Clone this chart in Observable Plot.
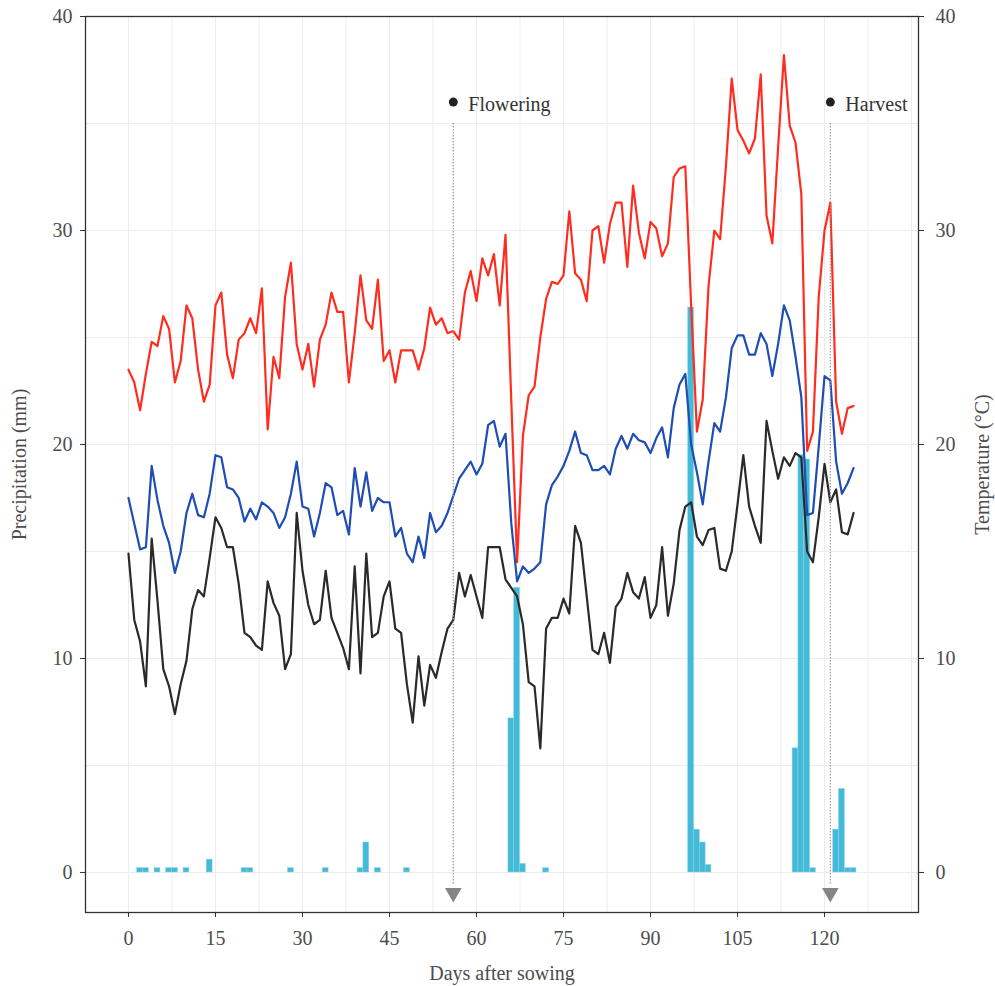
<!DOCTYPE html>
<html>
<head>
<meta charset="utf-8">
<script src="https://cdn.jsdelivr.net/npm/d3@7"></script>
<script src="https://cdn.jsdelivr.net/npm/@observablehq/plot@0.6"></script>
<style>
  html, body { margin: 0; padding: 0; background: #fff; }
  #chart svg { display: block; }
</style>
</head>
<body>
<div id="chart"></div>
<script>
// Days after sowing (0..125)
const days = d3.range(0, 126);

// Maximum temperature (°C)
const tmax = [
  23.5, 22.9, 21.6, 23.3, 24.8, 24.6, 26.0, 25.4, 22.9, 23.9,
  26.5, 25.9, 23.5, 22.0, 22.8, 26.5, 27.1, 24.2, 23.1, 24.9,
  25.2, 25.9, 25.2, 27.3, 20.7, 24.1, 23.1, 26.9, 28.5, 24.7,
  23.5, 24.7, 22.7, 24.9, 25.6, 27.1, 26.2, 26.2, 22.9, 25.2,
  27.9, 25.8, 25.4, 27.7, 23.9, 24.4, 22.9, 24.4, 24.4, 24.4,
  23.5, 24.5, 26.4, 25.6, 25.9, 25.2, 25.3, 24.9, 27.1, 28.1,
  26.7, 28.7, 27.9, 28.9, 26.5, 29.8, 22.0, 14.5, 20.4, 22.3,
  22.7, 25.0, 26.8, 27.6, 27.5, 27.9, 30.9, 28.0, 27.7, 26.7,
  30.0, 30.2, 28.5, 30.3, 31.3, 31.3, 28.3, 32.1, 29.9, 28.7,
  30.4, 30.1, 28.8, 29.4, 32.5, 32.9, 33.0, 26.5, 20.6, 22.1,
  27.4, 30.0, 29.6, 33.0, 37.1, 34.7, 34.2, 33.6, 34.3, 37.3,
  30.7, 29.4, 33.9, 38.2, 34.9, 34.1, 31.7, 19.7, 20.6, 26.9,
  30.0, 31.3, 22.0, 20.5, 21.7, 21.8
];

// Mean temperature (°C)
const tmean = [
  17.5, 16.3, 15.1, 15.2, 19.0, 17.4, 16.2, 15.4, 14.0, 15.0,
  16.8, 17.7, 16.7, 16.6, 17.7, 19.5, 19.4, 18.0, 17.9, 17.5,
  16.4, 17.0, 16.5, 17.3, 17.1, 16.8, 16.1, 16.6, 17.7, 19.2,
  17.1, 17.0, 15.7, 16.8, 18.2, 18.0, 16.7, 16.9, 15.8, 18.9,
  17.1, 18.7, 16.9, 17.5, 17.3, 17.3, 15.7, 16.1, 14.9, 14.5,
  15.7, 14.7, 16.8, 15.9, 16.2, 16.8, 17.6, 18.4, 18.8, 19.2,
  18.6, 19.1, 20.9, 21.1, 19.9, 20.5, 16.3, 13.6, 14.3, 14.0,
  14.2, 14.5, 17.2, 18.1, 18.5, 19.0, 19.7, 20.6, 19.6, 19.5,
  18.8, 18.8, 19.0, 18.6, 19.8, 20.4, 19.8, 20.5, 20.2, 20.1,
  19.6, 20.3, 20.8, 19.4, 21.7, 22.8, 23.3, 20.0, 18.7, 17.2,
  19.2, 21.0, 20.6, 22.2, 24.5, 25.1, 25.1, 24.2, 24.2, 25.2,
  24.7, 23.2, 24.7, 26.5, 25.8, 24.1, 22.2, 16.7, 16.8, 19.9,
  23.2, 23.0, 19.2, 17.7, 18.2, 18.9
];

// Minimum temperature (°C)
const tmin = [
  14.9, 11.8, 10.8, 8.7, 15.6, 12.7, 9.5, 8.7, 7.4, 8.8,
  9.9, 12.3, 13.2, 12.9, 14.7, 16.6, 16.1, 15.2, 15.2, 13.5,
  11.2, 11.0, 10.6, 10.4, 13.6, 12.6, 12.0, 9.5, 10.2, 16.8,
  14.1, 12.5, 11.6, 11.8, 14.1, 11.9, 11.2, 10.5, 9.5, 14.3,
  9.3, 14.9, 11.0, 11.2, 12.9, 13.6, 11.4, 11.2, 8.8, 7.0,
  10.1, 7.8, 9.7, 9.1, 10.3, 11.4, 11.8, 14.0, 12.9, 13.9,
  12.9, 11.9, 15.2, 15.2, 15.2, 13.7, 13.3, 12.9, 11.6, 8.9,
  8.7, 5.8, 11.4, 11.9, 11.9, 12.8, 12.1, 16.2, 15.4, 12.9,
  10.4, 10.2, 11.2, 9.8, 12.4, 12.8, 14.0, 13.1, 12.8, 13.8,
  11.9, 12.5, 15.2, 12.0, 13.5, 16.0, 17.1, 17.3, 15.7, 15.3,
  16.0, 16.1, 14.2, 14.1, 15.0, 17.2, 19.5, 17.1, 16.2, 15.4,
  21.1, 19.7, 18.4, 19.4, 19.0, 19.6, 19.4, 15.0, 14.5, 16.6,
  19.1, 17.3, 17.9, 15.9, 15.8, 16.8
];

// Precipitation (mm): rainy days and amounts
const rainDays = [2, 3, 5, 7, 8, 10, 14, 20, 21, 28, 34, 40, 41, 43, 48,
                  66, 67, 68, 72, 97, 98, 99, 100, 115, 116, 117, 118, 122, 123, 124, 125];
const rainMm   = [0.2, 0.2, 0.2, 0.2, 0.2, 0.2, 0.6, 0.2, 0.2, 0.2, 0.2, 0.2, 1.4, 0.2, 0.2,
                  7.2, 13.3, 0.4, 0.2, 26.4, 2.0, 1.4, 0.35, 5.8, 19.5, 19.3, 0.2, 2.0, 3.9, 0.2, 0.2];

// Crop stage events
const eventDays = [56, 121];
const eventLabels = ["Flowering", "Harvest"];

// Axis ticks
const xTicks = [0, 15, 30, 45, 60, 75, 90, 105, 120];
const yTicks = [0, 10, 20, 30, 40];
const xGrid = [0, 7.5, 15, 22.5, 30, 37.5, 45, 52.5, 60, 67.5, 75, 82.5, 90, 97.5, 105, 112.5, 120, 127.5, 135];
const yGrid = [0, 5, 10, 15, 20, 25, 30, 35, 40];

const rain = rainDays.map((d, i) => ({day: d, mm: rainMm[i]}));
const events = eventDays.map((d, i) => ({day: d, label: eventLabels[i]}));

const FONT = "'Liberation Serif', 'DejaVu Serif', serif";

const chart = Plot.plot({
  width: 995,
  height: 986,
  marginLeft: 85,
  marginRight: 77,
  marginTop: 16,
  marginBottom: 74,
  x: {domain: [-7.41, 136.2]},
  y: {domain: [-1.87, 40]},
  style: {fontFamily: FONT, fontSize: "20px", background: "#fff", color: "#333", overflow: "visible"},
  marks: [
    Plot.ruleX(xGrid, {stroke: "#ececec", strokeWidth: 1}),
    Plot.ruleY(yGrid, {stroke: "#ececec", strokeWidth: 1}),
    Plot.rect(rain, {x1: d => d.day - 0.5, x2: d => d.day + 0.5, y1: 0, y2: "mm",
                     fill: "#43bad8", stroke: "#8ad2e6", strokeWidth: 0.5}),
    Plot.line(tmax, {x: (d, i) => days[i], y: d => d, stroke: "#ff2d1f", strokeWidth: 2.2}),
    Plot.line(tmean, {x: (d, i) => days[i], y: d => d, stroke: "#1f4db3", strokeWidth: 2.2}),
    Plot.line(tmin, {x: (d, i) => days[i], y: d => d, stroke: "#2a2a2a", strokeWidth: 2.2}),
    Plot.ruleX(events, {x: "day", y1: 35, y2: -0.6, stroke: "#9a9a9a", strokeWidth: 1.2, strokeDasharray: "1.5,1.5"}),
    Plot.dot(events, {x: "day", y: -0.95, symbol: "triangle", rotate: 180, r: 6.2, fill: "#858585", stroke: "none"}),
    Plot.dot(events, {x: "day", y: 36, r: 4.5, fill: "#222", stroke: "none"}),
    Plot.text(events, {x: "day", y: 35.9, text: "label", dx: 15, textAnchor: "start", fontSize: 20, fill: "#333"}),
    Plot.frame({stroke: "#333", strokeWidth: 1.3}),
    Plot.axisX({ticks: xTicks, tickSize: 5, tickPadding: 13, tickFormat: d => String(d), fill: "#4d4d4d",
                label: "Days after sowing", labelAnchor: "center", labelArrow: "none", labelOffset: 67}),
    Plot.axisY({anchor: "left", ticks: yTicks, tickSize: 5, tickPadding: 8, tickFormat: d => String(d), fill: "#4d4d4d",
                label: "Precipitation (mm)", labelAnchor: "center", labelArrow: "none", labelOffset: 74}),
    Plot.axisY({anchor: "right", ticks: yTicks, tickSize: 5, tickPadding: 12, tickFormat: d => String(d), fill: "#4d4d4d",
                label: "Temperature (°C)", labelAnchor: "center", labelArrow: "none", labelOffset: 70})
  ]
});

document.getElementById("chart").appendChild(chart);
</script>
</body>
</html>
